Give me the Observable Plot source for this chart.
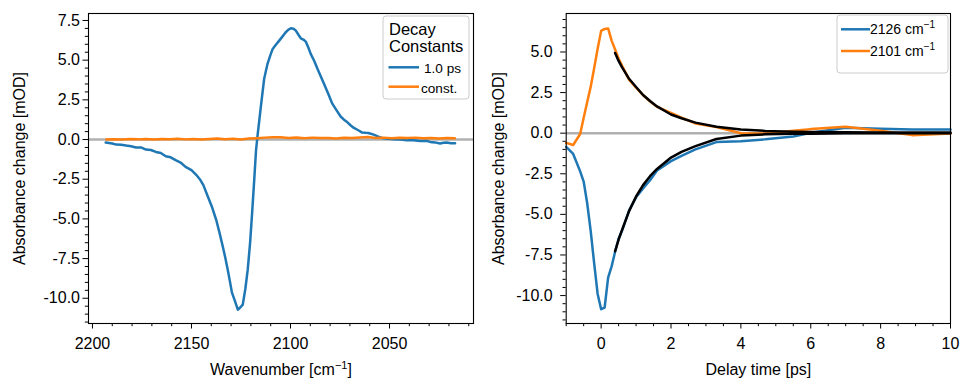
<!DOCTYPE html>
<html><head><meta charset="utf-8">
<script src="https://cdn.jsdelivr.net/npm/d3@7"></script>
<script src="https://cdn.jsdelivr.net/npm/@observablehq/plot@0.6"></script>
<style>
body{margin:0;background:#fff;}
#wrap{position:relative;width:961px;height:381px;font-family:"Liberation Sans",Arial,sans-serif;overflow:hidden;}
#left,#right{position:absolute;top:0;}
#left{left:0}#right{left:480px}
#legends{position:absolute;left:0;top:0;pointer-events:none}
</style></head><body>
<div id="wrap"><div id="left"></div><div id="right"></div>
<svg id="legends" width="961" height="381" font-family="'Liberation Sans', Arial, sans-serif">
  <rect x="383" y="16" width="86" height="83" rx="3" fill="white" fill-opacity="0.8" stroke="#cccccc"/>
  <text x="389" y="35" font-size="16.5">Decay</text>
  <text x="389" y="52" font-size="16.5">Constants</text>
  <line x1="388.5" x2="419" y1="67.3" y2="67.3" stroke="#1f77b4" stroke-width="2.5"/>
  <text x="424" y="73.3" font-size="13.6">1.0 ps</text>
  <line x1="388.5" x2="419" y1="86.7" y2="86.7" stroke="#ff7f0e" stroke-width="2.5"/>
  <text x="421" y="92.5" font-size="13.6">const.</text>
  <rect x="837" y="15" width="111" height="58" rx="3" fill="white" fill-opacity="0.8" stroke="#cccccc"/>
  <line x1="841" x2="870" y1="29.3" y2="29.3" stroke="#1f77b4" stroke-width="2.5"/>
  <text x="870" y="34" font-size="14">2126 cm<tspan dy="-6" font-size="10">−1</tspan></text>
  <line x1="841" x2="870" y1="51" y2="51" stroke="#ff7f0e" stroke-width="2.5"/>
  <text x="870" y="55.7" font-size="14">2101 cm<tspan dy="-6" font-size="10">−1</tspan></text>
</svg>
</div>
<script>
// ---- Left panel: decay-associated spectra ----
const wavenumbers = [2193.3,2190,2188,2185.5,2183,2180.5,2178,2175.5,2173,2170.5,2168,2165.5,2163,2160.5,2158,2155.5,2153,2150,2147.5,2145.5,2144,2141.7,2139.5,2137.5,2135.8,2134.2,2133,2131.7,2130.5,2129.6,2128.3,2126.6,2125.5,2124.1,2122.8,2121.6,2120.4,2119.4,2118.4,2117.4,2116.6,2114.9,2113.3,2111.6,2110.2,2109,2107.5,2105.7,2104,2102.4,2101,2099.8,2098.5,2097.3,2096,2094.8,2093.5,2092.3,2091,2089.8,2088,2086.4,2084.8,2083.1,2081,2078.9,2076.8,2074.7,2073,2071.4,2069.7,2068,2066,2063.8,2062,2060.7,2058,2056,2053.8,2051,2047.9,2044.5,2041.2,2038,2034.5,2031.5,2029.5,2027,2024.5,2022.8,2021.1,2019,2016.9];
const das1ps = [-0.19,-0.25,-0.32,-0.33,-0.38,-0.42,-0.5,-0.5,-0.63,-0.66,-0.78,-0.85,-1.05,-1.12,-1.3,-1.45,-1.72,-1.93,-2.24,-2.55,-2.87,-3.6,-4.3,-5.07,-5.9,-6.74,-7.4,-8.2,-9.0,-9.63,-10.09,-10.72,-10.6,-10.4,-9.4,-8.2,-6.5,-4.65,-2.7,-0.67,0.3,2.15,3.83,4.77,5.3,5.71,5.95,6.23,6.5,6.76,6.92,7.01,6.98,6.86,6.6,6.38,6.3,6.17,5.8,5.4,4.95,4.46,4.0,3.52,2.9,2.26,1.85,1.45,1.25,1.1,0.9,0.73,0.6,0.44,0.42,0.41,0.31,0.2,0.1,0.05,0.02,0.0,-0.04,-0.05,-0.09,-0.08,-0.15,-0.18,-0.25,-0.2,-0.19,-0.24,-0.23];
const wavenumbersConst = [2193,2189,2185,2181,2177,2173,2169,2165,2161,2157,2153,2149,2145,2141,2137,2133,2129,2125,2121,2117,2113,2109,2105,2101,2097,2093,2089,2085,2081,2077,2073,2069,2065,2061,2057,2053,2049,2045,2041,2037,2033,2029,2025,2021,2017];
const dasConst = [0.0,0.02,0.0,0.03,0.01,0.04,0.0,0.03,0.02,0.05,0.01,0.04,0.0,0.03,0.06,0.02,0.05,0.0,0.06,0.08,0.12,0.15,0.14,0.1,0.13,0.08,0.12,0.09,0.1,0.07,0.11,0.09,0.13,0.16,0.1,0.12,0.08,0.11,0.09,0.12,0.08,0.1,0.07,0.09,0.08];
const leftYMajor = [-10,-7.5,-5,-2.5,0,2.5,5,7.5];
const leftYMinor = d3.range(-23,16).map(i => i*0.5).filter(v => !leftYMajor.includes(v) && v >= -11.5);
const leftXMajor = [2200,2150,2100,2050];
const leftXMinor = d3.range(2010,2201,10).filter(v => !leftXMajor.includes(v));

// ---- Right panel: kinetic traces and fits ----
const delayTimes = [-1.0,-0.8,-0.6,-0.5,-0.4,-0.3,-0.2,-0.1,0,0.1,0.2,0.3,0.4,0.5,0.6,0.8,1.0,1.2,1.4,1.6,2.0,2.3,2.7,3.3,4.0,4.7,5.5,6.0,7.0,8.0,8.9,10.0];
const trace2126 = [-0.84,-1.28,-2.35,-2.98,-4.3,-6.0,-8.0,-9.9,-10.84,-10.74,-8.9,-8.2,-7.3,-6.5,-6.0,-4.75,-3.95,-3.4,-2.9,-2.3,-1.72,-1.4,-1.0,-0.55,-0.5,-0.38,-0.2,0.02,0.33,0.28,0.22,0.22];
const trace2101 = [-0.6,-0.73,-0.05,0.95,1.9,2.85,4.0,5.2,6.3,6.42,6.45,5.7,5.15,4.6,4.15,3.3,2.8,2.35,1.95,1.62,1.25,0.95,0.6,0.38,0.0,-0.02,0.15,0.25,0.4,0.15,-0.12,-0.02];
const fitTimes = [0.4,0.5,0.6,0.8,1.0,1.2,1.4,1.6,2.0,2.3,2.7,3.3,4.0,4.7,5.5,6.0,7.0,8.0,8.9,10.0];
const fit2126 = [-7.27,-6.55,-5.95,-4.8,-3.9,-3.2,-2.65,-2.2,-1.5,-1.15,-0.8,-0.36,-0.15,-0.07,-0.04,-0.03,-0.01,0,0,0];
const fit2101 = [4.94,4.45,4.05,3.35,2.84,2.35,1.98,1.65,1.15,0.92,0.65,0.4,0.22,0.14,0.09,0.07,0.05,0.04,0.04,0.04];
const rightYMajor = [-10,-7.5,-5,-2.5,0,2.5,5];
const rightYMinor = d3.range(-23,15).map(i => i*0.5).filter(v => !rightYMajor.includes(v) && v >= -11.5);
const rightXMajor = [0,2,4,6,8,10];
const rightXMinor = d3.range(-2,21).map(i => i*0.5).filter(v => !rightXMajor.includes(v));

const BLUE = "#1f77b4", ORANGE = "#ff7f0e", ZERO = "#b0b0b0";
const LW = 2.5;
const style = {fontFamily: '"Liberation Sans", Arial, sans-serif', fontSize: "16px", color: "black", background: "white", overflow: "visible"};
const fmt1 = d => d.toFixed(1);

const left = Plot.plot({
  width: 480, height: 381,
  marginLeft: 88, marginRight: 7, marginTop: 13, marginBottom: 58,
  style,
  x: {domain: [2202, 2007.6]},
  y: {domain: [-11.59, 7.94]},
  marks: [
    Plot.ruleY([0], {stroke: ZERO, strokeWidth: LW}),
    Plot.lineY(das1ps, {x: wavenumbers, stroke: BLUE, strokeWidth: LW}),
    Plot.lineY(dasConst, {x: wavenumbersConst, stroke: ORANGE, strokeWidth: LW}),
    Plot.frame({stroke: "black", strokeWidth: 1.1}),
    Plot.axisY(leftYMajor, {tickSize: 5.5, tickPadding: 3, tickFormat: fmt1, label: "Absorbance change [mOD]", labelAnchor: "center", labelOffset: 75, labelArrow: "none"}),
    Plot.axisY(leftYMinor, {tickSize: 3.2, fill: "none", label: null}),
    Plot.axisX(leftXMajor, {tickSize: 5.5, tickPadding: 9, tickFormat: d => String(d), label: "Wavenumber [cm−1]", labelAnchor: "center", labelOffset: 51, labelArrow: "none"}),
    Plot.axisX(leftXMinor, {tickSize: 3.2, fill: "none", label: null})
  ]
});
document.getElementById("left").append(left);

const right = Plot.plot({
  width: 481, height: 381,
  marginLeft: 85.7, marginRight: 11, marginTop: 13, marginBottom: 58,
  style,
  x: {domain: [-1, 10]},
  y: {domain: [-11.72, 7.37]},
  marks: [
    Plot.ruleY([0], {stroke: ZERO, strokeWidth: LW}),
    Plot.lineY(trace2126, {x: delayTimes, stroke: BLUE, strokeWidth: LW}),
    Plot.lineY(trace2101, {x: delayTimes, stroke: ORANGE, strokeWidth: LW}),
    Plot.lineY(fit2126, {x: fitTimes, stroke: "black", strokeWidth: LW}),
    Plot.lineY(fit2101, {x: fitTimes, stroke: "black", strokeWidth: LW}),
    Plot.frame({stroke: "black", strokeWidth: 1.1}),
    Plot.axisY(rightYMajor, {tickSize: 5.5, tickPadding: 8, tickFormat: fmt1, label: "Absorbance change [mOD]", labelAnchor: "center", labelOffset: 73.7, labelArrow: "none"}),
    Plot.axisY(rightYMinor, {tickSize: 3.2, fill: "none", label: null}),
    Plot.axisX(rightXMajor, {tickSize: 5.5, tickPadding: 9, tickFormat: d => String(d), label: "Delay time [ps]", labelAnchor: "center", labelOffset: 51, labelArrow: "none"}),
    Plot.axisX(rightXMinor, {tickSize: 3.2, fill: "none", label: null})
  ]
});
document.getElementById("right").append(right);

// superscript in the wavenumber label
left.querySelectorAll("text").forEach(t => {
  if (t.textContent === "Wavenumber [cm−1]") {
    t.innerHTML = 'Wavenumber [cm<tspan dy="-6" font-size="11">−1</tspan><tspan dy="6">]</tspan>';
  }
});
</script>
</body></html>
